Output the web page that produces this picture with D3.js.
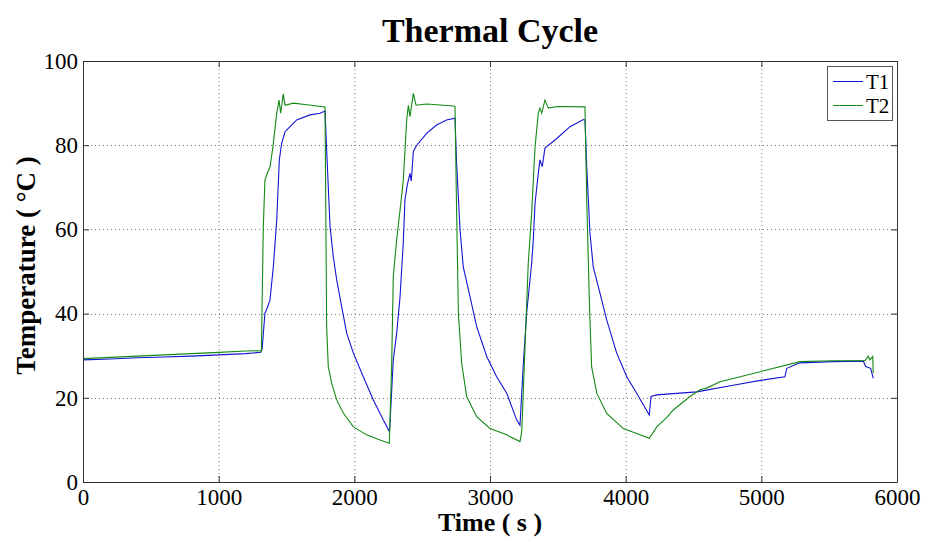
<!DOCTYPE html>
<html>

<head>
    <meta charset="utf-8">
    <title>Thermal Cycle</title>
    <style>
        body { margin: 0; background: #fff; }
        text { font-family: "Liberation Serif", "Times New Roman", serif; }
    </style>
</head>

<body>
    <svg class="chart"></svg>
    <script src="https://cdn.jsdelivr.net/npm/d3@7"></script>
    <script>
        // T1 (blue) - time in s, temperature in °C
        const t1Time = [0, 200, 400, 600, 800, 1000, 1200, 1310, 1320, 1341, 1360, 1378, 1403, 1428, 1447, 1464, 1489, 1526, 1575, 1673, 1747, 1784,
            1796, 1821, 1845, 1870, 1907, 1944, 1993, 2066, 2140, 2214, 2258,
            2263, 2287, 2312, 2337, 2361, 2373, 2390, 2410, 2420, 2435, 2460, 2533, 2606, 2680, 2742,
            2754, 2779, 2803, 2853, 2902, 2976, 3049, 3123, 3197, 3221,
            3246, 3270, 3307, 3320, 3332, 3356, 3368, 3385, 3405, 3492, 3590, 3688, 3700,
            3713, 3737, 3761, 3811, 3860, 3934, 4008, 4081, 4174,
            4187, 4229, 4524, 4793, 5003, 5174, 5187, 5285, 5530, 5752, 5769, 5806, 5825]
        const t1Temp = [29.0, 29.2, 29.5, 29.7, 29.9, 30.2, 30.5, 30.8, 31.5, 40.1, 41.5, 43.2, 51.1, 62.2, 76.5, 80.4, 83.2, 84.4, 86.0, 87.2, 87.6, 88.1,
            78.9, 60.6, 53.5, 48.0, 41.6, 35.3, 30.6, 25.0, 19.5, 14.7, 12.0,
            14.0, 29.0, 35.3, 44.0, 57.0, 67.0, 70.5, 73.3, 71.5, 78.5, 80.0, 82.8, 84.8, 86.0, 86.4,
            75.7, 59.9, 51.1, 44.0, 36.9, 29.8, 25.0, 21.1, 14.7, 13.5,
            28.2, 40.1, 51.9, 58.0, 66.2, 73.3, 76.5, 74.9, 79.3, 81.6, 84.4, 86.1, 86.0,
            74.9, 59.1, 51.1, 44.8, 38.5, 30.6, 25.0, 21.1, 15.9,
            20.3, 20.7, 21.4, 23.0, 24.2, 25.0, 27.0, 28.3, 28.6, 28.7, 27.4, 27.0, 24.6]

        // T2 (green)
        const t2Time = [0, 200, 400, 600, 800, 1000, 1200, 1315, 1329, 1341, 1360, 1378, 1400, 1428, 1445, 1457, 1476, 1489, 1550, 1650, 1784,
            1791, 1796, 1808, 1833, 1870, 1919, 1993, 2091, 2189, 2258,
            2275, 2287, 2312, 2337, 2361, 2386, 2398, 2410, 2435, 2455, 2533, 2730, 2742,
            2754, 2767, 2791, 2828, 2902, 3000, 3123, 3221,
            3234, 3258, 3282, 3307, 3332, 3356, 3368, 3381, 3405, 3430, 3500, 3700,
            3713, 3732, 3749, 3787, 3860, 3983, 4106, 4174,
            4229, 4302, 4351, 4474, 4548, 4597, 4695, 4793, 5040, 5285, 5530, 5764, 5788, 5800, 5821, 5825]
        const t2Temp = [29.3, 29.6, 29.9, 30.2, 30.5, 30.8, 31.1, 31.2, 60.6, 71.7, 73.5, 74.8, 79.6, 87.6, 90.7, 87.6, 92.2, 89.5, 90.0, 89.6, 89.1,
            59.0, 36.9, 27.4, 23.5, 19.5, 16.4, 13.1, 11.2, 10.0, 9.2,
            27.4, 48.8, 57.5, 64.6, 71.7, 86.0, 89.5, 86.8, 92.3, 89.5, 89.8, 89.3, 89.2,
            63.9, 40.1, 28.2, 20.3, 15.5, 12.7, 11.2, 9.6,
            12.0, 32.1, 51.9, 63.8, 79.6, 87.6, 88.8, 87.6, 90.7, 88.8, 89.2, 89.1,
            67.0, 43.2, 27.4, 21.1, 16.3, 12.7, 11.2, 10.4,
            13.1, 15.3, 17.1, 20.3, 21.9, 22.3, 23.8, 24.6, 26.6, 28.6, 28.8, 28.8, 29.9, 29.0, 29.8, 25.9]

        const xTicks = [0, 1000, 2000, 3000, 4000, 5000, 6000]
        const yTicks = [0, 20, 40, 60, 80, 100]

        const width = 925, height = 538
        const margin = { left: 83, right: 28, top: 61, down: 56 }

        const svg = d3.select(".chart")
            .attr("width", width)
            .attr("height", height)

        svg.append("rect")
            .attr("width", width)
            .attr("height", height)
            .attr("fill", "#fff")

        const xScale = d3.scaleLinear()
            .domain([0, 6000])
            .range([margin.left, width - margin.right])

        const yScale = d3.scaleLinear()
            .domain([0, 100])
            .range([height - margin.down, margin.top])

        // dotted grid
        const grid = svg.append("g")
        grid.selectAll("line.gx")
            .data(xTicks.slice(1, -1))
            .enter()
            .append("line")
            .attr("x1", d => xScale(d) + 0.5)
            .attr("x2", d => xScale(d) + 0.5)
            .attr("y1", yScale(0))
            .attr("y2", yScale(100))
            .attr("stroke", "#777")
            .attr("stroke-dasharray", "1,3")
        grid.selectAll("line.gy")
            .data(yTicks.slice(1, -1))
            .enter()
            .append("line")
            .attr("x1", xScale(0))
            .attr("x2", xScale(6000))
            .attr("y1", d => Math.round(yScale(d)) + 0.5)
            .attr("y2", d => Math.round(yScale(d)) + 0.5)
            .attr("stroke", "#777")
            .attr("stroke-dasharray", "1,3")

        // lines
        const line = d3.line()
            .x(d => xScale(d[0]))
            .y(d => yScale(d[1]))

        svg.append("path")
            .datum(t1Time.map((t, i) => [t, t1Temp[i]]))
            .attr("d", line)
            .attr("fill", "none")
            .attr("stroke", "#1414d2")
            .attr("stroke-width", 1.1)

        svg.append("path")
            .datum(t2Time.map((t, i) => [t, t2Temp[i]]))
            .attr("d", line)
            .attr("fill", "none")
            .attr("stroke", "#138a13")
            .attr("stroke-width", 1.1)

        // axes, ticks pointing inward like matlab
        function styleAxis(g) {
            g.select(".domain").attr("stroke", "#333")
            g.selectAll(".tick line").attr("stroke", "#333")
            g.selectAll("text")
                .attr("font-family", "Liberation Serif")
                .attr("font-size", 23)
                .attr("fill", "#000")
        }

        const fmt = d3.format("d")

        svg.append("g")
            .attr("transform", `translate(0, ${yScale(0)})`)
            .call(d3.axisBottom(xScale).tickValues(xTicks).tickFormat(fmt).tickSize(-6).tickSizeOuter(0).tickPadding(7))
            .call(styleAxis)

        svg.append("g")
            .attr("transform", `translate(0, ${yScale(100)})`)
            .call(d3.axisTop(xScale).tickValues(xTicks).tickSize(-6).tickSizeOuter(0).tickFormat(""))
            .call(styleAxis)

        svg.append("g")
            .attr("transform", `translate(${xScale(0)}, 0)`)
            .call(d3.axisLeft(yScale).tickValues(yTicks).tickFormat(fmt).tickSize(-6).tickSizeOuter(0).tickPadding(5))
            .call(styleAxis)

        svg.append("g")
            .attr("transform", `translate(${xScale(6000)}, 0)`)
            .call(d3.axisRight(yScale).tickValues(yTicks).tickSize(-6).tickSizeOuter(0).tickFormat(""))
            .call(styleAxis)

        // titles
        svg.append("text")
            .attr("x", (xScale(0) + xScale(6000)) / 2)
            .attr("y", 42)
            .attr("text-anchor", "middle")
            .attr("font-size", 34)
            .attr("font-weight", "bold")
            .text("Thermal Cycle")

        svg.append("text")
            .attr("x", (xScale(0) + xScale(6000)) / 2)
            .attr("y", 531)
            .attr("text-anchor", "middle")
            .attr("font-size", 26)
            .attr("font-weight", "bold")
            .text("Time ( s )")

        svg.append("text")
            .attr("transform", `translate(35, ${(yScale(0) + yScale(100)) / 2 - 6}) rotate(-90)`)
            .attr("text-anchor", "middle")
            .attr("font-size", 27)
            .attr("font-weight", "bold")
            .text("Temperature ( °C )")

        // legend
        const legend = svg.append("g")
        legend.append("rect")
            .attr("x", 827.5)
            .attr("y", 66.5)
            .attr("width", 65)
            .attr("height", 54)
            .attr("fill", "#fff")
            .attr("stroke", "#555")
        const legendItems = [["T1", "#1414d2"], ["T2", "#138a13"]]
        legend.selectAll("line")
            .data(legendItems)
            .enter()
            .append("line")
            .attr("x1", 833)
            .attr("x2", 863)
            .attr("y1", (d, i) => 81.5 + i * 24)
            .attr("y2", (d, i) => 81.5 + i * 24)
            .attr("stroke", d => d[1])
        legend.selectAll("text")
            .data(legendItems)
            .enter()
            .append("text")
            .attr("x", 866)
            .attr("y", (d, i) => 81.5 + i * 24)
            .attr("dy", "0.35em")
            .attr("font-size", 21)
            .text(d => d[0])
    </script>
</body>

</html>
